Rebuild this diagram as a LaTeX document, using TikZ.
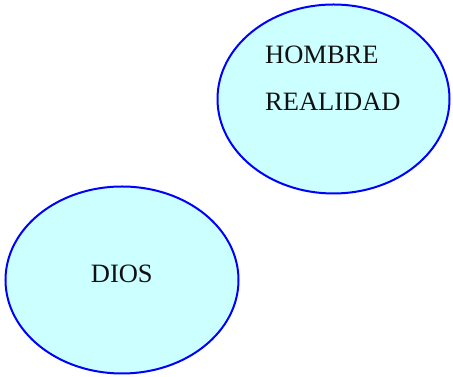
\documentclass[tikz,border=0pt]{standalone}
\usepackage{fontspec}
\setmainfont{Liberation Serif}
\usetikzlibrary{shapes.geometric}
\definecolor{fillcyan}{HTML}{CCFFFF}
\definecolor{edgeblue}{HTML}{0000FF}
\definecolor{txt}{HTML}{111111}
\tikzset{
  bubble/.style={ellipse, draw=edgeblue, fill=fillcyan, line width=2pt, inner sep=0pt},
  lbl/.style={anchor=base west, inner sep=0pt, text=txt, font=\fontsize{26.5}{30}\selectfont}
}
\begin{document}
\begin{tikzpicture}[x=1pt,y=1pt]
\useasboundingbox (0,0) rectangle (453,377);
\node[bubble, minimum width=232pt, minimum height=189pt] (e1) at (333.5,278) {};
\node[bubble, minimum width=233pt, minimum height=187pt] (e2) at (122,97) {};
\node[lbl] (hombre) at (265,313) {HOMBRE};
\node[lbl] (realidad) at (265,266.3) {REALIDAD};
\node[lbl] (dios) at (90.7,94.3) {DIOS};
\end{tikzpicture}
\end{document}
